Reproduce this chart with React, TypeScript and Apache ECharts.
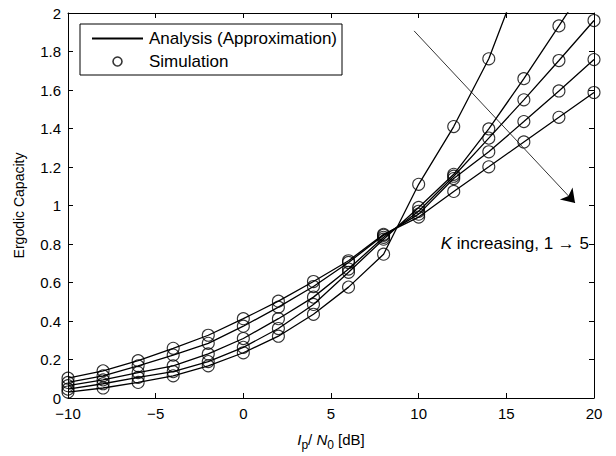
import React, { useEffect, useRef } from "react";
import * as echarts from "echarts";

const snrDb = [-10, -8, -6, -4, -2, 0, 2, 4, 6, 8, 10, 12, 14, 16, 18, 20];
const capK1 = [0.031, 0.052, 0.081, 0.115, 0.167, 0.235, 0.321, 0.435, 0.576, 0.747, 1.11, 1.41, 1.762, 2.24, 2.75, 3.3];
const capK2 = [0.046, 0.074, 0.107, 0.137, 0.189, 0.263, 0.361, 0.486, 0.653, 0.825, 0.99, 1.162, 1.398, 1.659, 1.933, 2.21];
const capK3 = [0.064, 0.094, 0.132, 0.167, 0.229, 0.309, 0.412, 0.524, 0.67, 0.835, 0.97, 1.152, 1.35, 1.549, 1.753, 1.961];
const capK4 = [0.081, 0.115, 0.167, 0.223, 0.284, 0.373, 0.472, 0.579, 0.704, 0.845, 0.955, 1.14, 1.279, 1.436, 1.595, 1.758];
const capK5 = [0.103, 0.141, 0.194, 0.258, 0.326, 0.412, 0.503, 0.605, 0.713, 0.85, 0.94, 1.073, 1.201, 1.33, 1.458, 1.587];
const allCurves = [capK1, capK2, capK3, capK4, capK5];

const analysisName = "Analysis (Approximation)";
const simulationName = "Simulation";
const arrowStart = [9.74, 1.907];
const arrowEnd = [18.92, 1.013];

const FONT = "Liberation Sans, Arial, Helvetica, sans-serif";

export default function App() {
  const ref = useRef<HTMLDivElement>(null);
  useEffect(() => {
    const chart = echarts.init(ref.current!, null, { renderer: "svg" });
    const lineSeries = allCurves.map((vals, i) => ({
      name: analysisName,
      type: "line",
      data: snrDb.map((x, j) => [x, vals[j]]),
      symbol: "none",
      showSymbol: false,
      lineStyle: { color: "#000", width: 1.3 },
      itemStyle: { color: "#000" },
      clip: true,
      z: 2,
      markLine:
        i === 0
          ? {
              silent: true,
              symbol: ["none", "arrow"],
              symbolSize: 13,
              lineStyle: { color: "#000", width: 0.8, type: "solid" },
              itemStyle: { color: "#000" },
              label: { show: false },
              data: [[{ coord: arrowStart }, { coord: arrowEnd }]],
            }
          : undefined,
    }));
    const scatterSeries = allCurves.map((vals) => ({
      name: simulationName,
      type: "scatter",
      data: snrDb.map((x, j) => [x, vals[j]]),
      symbol: "circle",
      symbolSize: 12,
      clip: true,
      itemStyle: { color: "rgba(0,0,0,0)", borderColor: "#000", borderWidth: 1.1 },
      z: 3,
    }));
    const fmtX = (v: number) => (v < 0 ? "\u2212" + Math.abs(v) : String(v));
    const fmtY = (v: number) => String(+v.toFixed(1));
    const axisLine = { show: true, onZero: false, lineStyle: { color: "#000", width: 1 } };
    const axisTick = { show: true, inside: true, length: 5, lineStyle: { color: "#000" } };
    chart.setOption({
      animation: false,
      backgroundColor: "#fff",
      textStyle: { fontFamily: FONT },
      grid: { left: 68, right: 22, top: 13, bottom: 54, containLabel: false },
      legend: {
        data: [
          { name: analysisName, itemStyle: { color: "rgba(0,0,0,0)", borderWidth: 0 } },
          { name: simulationName, itemStyle: { color: "rgba(0,0,0,0)", borderColor: "#000", borderWidth: 1.6 } },
        ],
        orient: "vertical",
        left: 80,
        top: 24,
        padding: [6, 5, 5, 11],
        itemWidth: 51,
        itemHeight: 9,
        itemGap: 6,
        backgroundColor: "#fff",
        borderColor: "#000",
        borderWidth: 1,
        borderRadius: 0,
        textStyle: { fontFamily: FONT, fontSize: 17, color: "#000", padding: [0, 0, 0, 1] },
      },
      xAxis: [
        {
          type: "value",
          min: -10,
          max: 20,
          interval: 5,
          axisLine,
          axisTick,
          axisLabel: { formatter: fmtX, color: "#000", fontSize: 15, margin: 8, fontFamily: FONT },
          splitLine: { show: false },
          name: "{i|I}{sub|p}{n|/ }{i|N}{sub|0}{n| [dB]}",
          nameLocation: "middle",
          nameGap: 29,
          nameTextStyle: {
            fontFamily: FONT,
            color: "#000",
            rich: {
              i: { fontStyle: "italic", fontSize: 15, fontFamily: FONT, color: "#000" },
              n: { fontSize: 15, fontFamily: FONT, color: "#000" },
              sub: { fontSize: 12, fontFamily: FONT, color: "#000", padding: [12, 0, 0, 0] },
            },
          },
        },
        {
          type: "value",
          position: "top",
          min: -10,
          max: 20,
          interval: 5,
          axisLine,
          axisTick,
          axisLabel: { show: false },
          splitLine: { show: false },
        },
      ],
      yAxis: [
        {
          type: "value",
          min: 0,
          max: 2,
          interval: 0.2,
          axisLine,
          axisTick,
          axisLabel: { formatter: fmtY, color: "#000", fontSize: 15, margin: 7, fontFamily: FONT },
          splitLine: { show: false },
          name: "Ergodic Capacity",
          nameLocation: "middle",
          nameGap: 42,
          nameTextStyle: { fontFamily: FONT, fontSize: 14, color: "#000" },
        },
        {
          type: "value",
          position: "right",
          min: 0,
          max: 2,
          interval: 0.2,
          axisLine,
          axisTick,
          axisLabel: { show: false },
          splitLine: { show: false },
        },
      ],
      graphic: [
        {
          type: "text",
          right: 27,
          top: 235,
          style: {
            text: "{i|K} increasing, 1 \u2192 5",
            fill: "#000",
            font: `17px ${FONT}`,
            rich: {
              i: { fontStyle: "italic", fontSize: 17, fontFamily: FONT, fill: "#000" },
            },
          },
          z: 10,
        },
      ],
      series: [...lineSeries, ...scatterSeries],
    });
    return () => chart.dispose();
  }, []);
  return (
    <div
      ref={ref}
      style={{ position: "fixed", left: 0, top: 0, width: 616, height: 456, background: "#fff" }}
    />
  );
}
